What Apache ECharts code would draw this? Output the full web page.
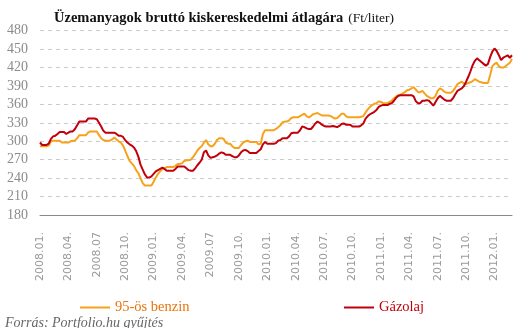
<!DOCTYPE html>
<html>
<head>
<meta charset="utf-8">
<script src="https://cdn.jsdelivr.net/npm/echarts@6/dist/echarts.min.js"></script>
<style>
  html, body { margin: 0; padding: 0; background: #fff; }
  #chart { width: 526px; height: 328px; }
</style>
</head>
<body>
<div id="chart"></div>
<script>
// Weekly retail fuel prices (Ft/liter), first week of 2008 to early 2012
const seriesNames = ['95-ös benzin', 'Gázolaj'];

const benzin = [
  292, 292, 292, 292, 293, 300, 301, 301, 301, 301, 298, 298, 298, 298, 300, 301, 301, 305, 310, 310,
  310, 310, 314, 316, 316, 316, 316, 310, 305, 302, 301, 301, 301, 303, 306, 303, 300, 298, 293, 285,
  276, 268, 264, 260, 253, 248, 240, 232, 228, 228, 228, 228, 234, 241, 247, 251, 255, 256, 258, 258,
  258, 258, 260, 263, 263, 264, 268, 269, 269, 270, 274, 279, 285, 289, 292, 298, 302, 295, 292, 292,
  296, 302, 305, 305, 304, 298, 296, 296, 292, 289, 289, 289, 294, 298, 300, 301, 299, 299, 299, 299,
  295, 296, 312, 318, 318, 318, 318, 318, 320, 323, 326, 331, 332, 332, 334, 338, 339, 339, 339, 341,
  343, 345, 341, 339, 341, 344, 345, 346, 344, 342, 342, 342, 342, 341, 339, 337, 338, 341, 345, 345,
  341, 339, 339, 339, 339, 339, 339, 340, 341, 347, 352, 356, 359, 361, 362, 365, 364, 362, 362, 362,
  364, 366, 370, 373, 375, 376, 378, 380, 383, 384, 386, 388, 384, 380, 380, 382, 378, 374, 372, 370,
  370, 374, 382, 386, 384, 381, 379, 379, 379, 382, 387, 393, 395, 397, 394, 393, 395, 396, 398, 401,
  399, 397, 396, 395, 395, 395, 408, 422, 426, 428, 422, 420, 420, 422, 425, 428, 434
];

const gazolaj = [
  298, 294, 294, 294, 296, 304, 308, 309, 312, 315, 315, 315, 312, 314, 316, 316, 320, 326, 332, 332,
  332, 332, 337, 337, 337, 337, 336, 330, 324, 317, 314, 314, 314, 314, 314, 312, 309, 309, 307, 302,
  298, 295, 293, 290, 284, 275, 262, 254, 246, 241, 241, 243, 247, 251, 253, 255, 257, 255, 252, 252,
  252, 252, 255, 259, 259, 259, 259, 256, 253, 252, 252, 256, 261, 265, 270, 282, 285, 277, 273, 274,
  275, 277, 280, 282, 281, 278, 278, 278, 276, 274, 274, 277, 282, 285, 286, 284, 281, 281, 281, 281,
  284, 287, 295, 299, 296, 296, 296, 296, 297, 301, 302, 305, 305, 305, 308, 313, 314, 314, 314, 318,
  324, 323, 321, 320, 320, 324, 329, 332, 330, 327, 325, 324, 324, 324, 325, 324, 323, 325, 328, 329,
  327, 327, 327, 324, 324, 324, 324, 326, 329, 337, 341, 344, 346, 348, 351, 356, 358, 359, 359, 359,
  361, 362, 366, 371, 374, 375, 375, 375, 375, 375, 375, 373, 365, 362, 362, 366, 366, 367, 366, 362,
  358, 364, 370, 374, 371, 368, 366, 366, 366, 370, 376, 382, 384, 386, 390, 397, 405, 414, 424, 431,
  435, 432, 429, 426, 423, 426, 437, 446, 451, 447, 440, 432, 436, 438, 440, 436, 440
];

// Quarterly tick labels, one every 13 weeks
const tickLabels = [
  '2008.01.', '2008.04.', '2008.07', '2008.10.', '2009.01.', '2009.04.', '2009.07', '2009.10.',
  '2010.01.', '2010.04.', '2010.07.', '2010.10.', '2011.01.', '2011.04.', '2011.07.', '2011.10.',
  '2012.01.'
];
const weeksPerTick = 13;

const colors = ['#F7A21B', '#C0000B'];
const legendTextColors = ['#E8730C', '#C0000B'];
const serif = '"Liberation Serif", "DejaVu Serif", serif';

const toPairs = arr => arr.map((v, i) => [i, v]);

const chart = echarts.init(document.getElementById('chart'), null, { renderer: 'canvas' });

// Shared look of the two legend entries: a plain short line, then the name
const legendBase = {
  top: 295,
  icon: 'rect',
  itemWidth: 30,
  itemHeight: 2,
  textStyle: { fontFamily: serif, fontSize: 14.5 }
};

chart.setOption({
  animation: false,
  backgroundColor: '#fff',
  title: [
    {
      left: 49,
      top: 4,
      text: '{b|Üzemanyagok bruttó kiskereskedelmi átlagára} {n|(Ft/liter)}',
      textStyle: {
        rich: {
          b: { fontFamily: serif, fontWeight: 'bold', fontSize: 14.5, color: '#111' },
          n: { fontFamily: serif, fontWeight: 'normal', fontSize: 13.5, color: '#111' }
        }
      }
    },
    {
      left: 0,
      top: 311,
      text: 'Forrás: Portfolio.hu gyűjtés',
      textStyle: {
        fontFamily: serif, fontStyle: 'italic', fontWeight: 'normal', fontSize: 14, color: '#666'
      }
    }
  ],
  legend: [
    Object.assign({}, legendBase, {
      left: 75,
      data: [{ name: seriesNames[0], textStyle: { color: legendTextColors[0] } }]
    }),
    Object.assign({}, legendBase, {
      left: 339,
      data: [{ name: seriesNames[1], textStyle: { color: legendTextColors[1] } }]
    })
  ],
  grid: { left: 40, right: 14, top: 30.7, bottom: 113, containLabel: false },
  xAxis: {
    type: 'value',
    min: 0,
    max: benzin.length - 1,
    interval: weeksPerTick,
    axisLine: { show: true, lineStyle: { color: '#8a8a8a', width: 1 } },
    axisTick: { show: false },
    splitLine: { show: false },
    axisLabel: {
      rotate: 90,
      margin: 17,
      showMaxLabel: false,
      color: '#9a9a9a',
      fontFamily: '"DejaVu Sans", Verdana, sans-serif',
      fontSize: 11,
      formatter: v => (v % weeksPerTick === 0 ? (tickLabels[v / weeksPerTick] || '') : '')
    }
  },
  yAxis: {
    type: 'value',
    min: 180,
    max: 480,
    interval: 30,
    axisLine: { show: false },
    axisTick: { show: false },
    splitLine: { show: true, lineStyle: { color: '#cccccc', type: [4, 4], width: 1 } },
    axisLabel: {
      margin: 12,
      color: '#8c8c8c',
      fontFamily: serif,
      fontSize: 14
    }
  },
  series: [
    {
      name: seriesNames[0],
      type: 'line',
      data: toPairs(benzin),
      symbol: 'none',
      lineStyle: { color: colors[0], width: 2 },
      itemStyle: { color: colors[0] },
      z: 2
    },
    {
      name: seriesNames[1],
      type: 'line',
      data: toPairs(gazolaj),
      symbol: 'none',
      lineStyle: { color: colors[1], width: 2 },
      itemStyle: { color: colors[1] },
      z: 3
    }
  ]
});
</script>
</body>
</html>
